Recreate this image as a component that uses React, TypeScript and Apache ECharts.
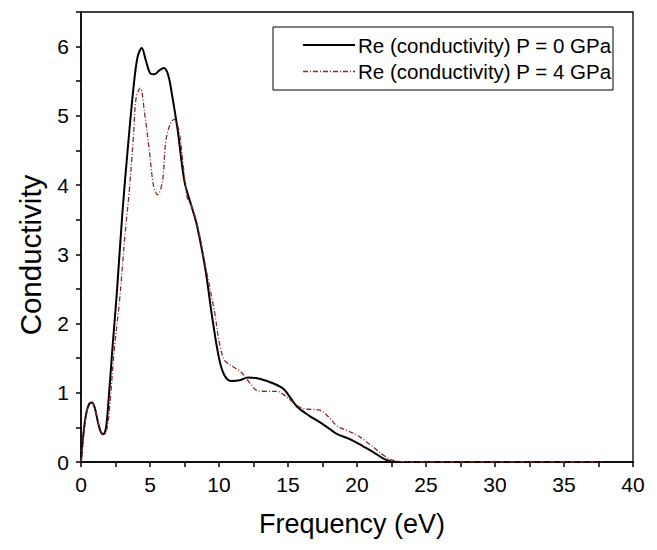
import React, { useEffect, useRef } from "react";
import * as echarts from "echarts";

const seriesNames = ["Re (conductivity) P = 0 GPa", "Re (conductivity) P = 4 GPa"];

const freqP0 = [0, 0.2, 0.4, 0.6, 0.8, 1.0, 1.2, 1.4, 1.6, 1.8, 2.0, 2.3, 2.6, 3.0, 3.4, 3.8, 4.1, 4.4, 4.7, 5.0, 5.3, 5.7, 6.0, 6.3, 6.6, 7.0, 7.5, 8.0, 8.4, 9.0, 9.5, 10.0, 10.4, 10.9, 11.5, 12.1, 13.0, 14.0, 14.7, 15.2, 15.7, 16.6, 17.1, 18.0, 18.5, 19.7, 20.5, 21.2, 22.1, 22.8, 25, 30, 37.7];
const condP0 = [0, 0.45, 0.72, 0.84, 0.86, 0.78, 0.6, 0.45, 0.4, 0.48, 0.9, 1.7, 2.45, 3.6, 4.55, 5.4, 5.85, 5.98, 5.8, 5.62, 5.6, 5.66, 5.69, 5.6, 5.3, 4.8, 4.05, 3.7, 3.42, 2.8, 2.1, 1.5, 1.25, 1.17, 1.18, 1.22, 1.2, 1.13, 1.05, 0.92, 0.79, 0.66, 0.6, 0.48, 0.41, 0.31, 0.22, 0.14, 0.03, 0.0, 0, 0, 0];

const freqP4 = [0, 0.2, 0.4, 0.6, 0.8, 1.0, 1.2, 1.4, 1.65, 1.9, 2.1, 2.4, 2.8, 3.2, 3.5, 3.8, 4.0, 4.3, 4.6, 4.95, 5.25, 5.55, 5.9, 6.15, 6.5, 6.75, 7.1, 7.4, 7.7, 8.0, 8.4, 9.0, 9.7, 10.0, 10.4, 11.0, 11.6, 12.2, 12.8, 13.5, 14.24, 14.7, 15.2, 16.1, 16.7, 17.3, 18.0, 18.5, 19.2, 20.0, 20.5, 21.15, 21.9, 22.5, 23.5, 25, 30, 37.7];
const condP4 = [0, 0.42, 0.7, 0.83, 0.85, 0.78, 0.62, 0.46, 0.4, 0.5, 0.85, 1.6, 2.35, 3.3, 3.92, 4.7, 5.27, 5.4, 5.05, 4.5, 4.0, 3.86, 4.05, 4.64, 4.9, 4.95, 4.78, 4.3, 3.82, 3.7, 3.45, 2.85, 2.14, 1.75, 1.47, 1.38, 1.3, 1.15, 1.03, 1.02, 1.02, 0.97, 0.89, 0.77, 0.76, 0.75, 0.64, 0.53, 0.46, 0.39, 0.32, 0.22, 0.1, 0.03, 0.005, 0, 0, 0];

const xTitle = "Frequency (eV)";
const yTitle = "Conductivity";

const FONT = '"Liberation Sans", Arial, sans-serif';
const COLOR_P0 = "#000";
const COLOR_P4 = "#8b2a2a";
const DASH_P4 = [5, 2, 1, 2];

export default function App() {
  const ref = useRef<HTMLDivElement>(null);
  useEffect(() => {
    if (!ref.current) return;
    const chart = echarts.init(ref.current, undefined, { renderer: "svg" });
    const zip = (xs: number[], ys: number[]) => xs.map((x, i) => [x, ys[i]]);
    const legendRows = [45, 71.5];
    const legendStyles = [
      { stroke: COLOR_P0, lineWidth: 2 },
      { stroke: COLOR_P4, lineWidth: 1.3, lineDash: DASH_P4 },
    ];
    const legendGraphics: any[] = [];
    seriesNames.forEach((name, i) => {
      legendGraphics.push({
        type: "line",
        shape: { x1: 303, y1: legendRows[i], x2: 355, y2: legendRows[i] },
        style: legendStyles[i],
        z: 11,
      });
      legendGraphics.push({
        type: "text",
        x: 358,
        y: legendRows[i],
        style: {
          text: name,
          fontFamily: FONT,
          fontSize: 20.5,
          fill: "#000",
          align: "left",
          verticalAlign: "middle",
          textAlign: "left",
          textVerticalAlign: "middle",
        },
        z: 11,
      });
    });
    chart.setOption({
      animation: false,
      backgroundColor: "#fff",
      grid: {
        left: 81,
        right: 24,
        top: 12,
        bottom: 88,
        show: true,
        borderColor: "#000",
        borderWidth: 1.3,
        backgroundColor: "transparent",
      },
      xAxis: {
        type: "value",
        min: 0,
        max: 40,
        interval: 2.5,
        axisLine: { show: true, lineStyle: { color: "#000", width: 1.5 } },
        axisTick: { show: true, length: 5, lineStyle: { color: "#000", width: 1.5 } },
        axisLabel: {
          margin: 12,
          fontFamily: FONT,
          fontSize: 21,
          color: "#000",
          formatter: (v: number) => (v % 5 === 0 ? String(v) : ""),
        },
        splitLine: { show: false },
      },
      yAxis: {
        type: "value",
        min: 0,
        max: 6.5,
        interval: 0.5,
        axisLine: { show: true, lineStyle: { color: "#000", width: 1.5 } },
        axisTick: { show: true, length: 5, lineStyle: { color: "#000", width: 1.5 } },
        axisLabel: {
          margin: 12,
          fontFamily: FONT,
          fontSize: 21,
          color: "#000",
          formatter: (v: number) => (Number.isInteger(v) && v <= 6 ? String(v) : ""),
        },
        splitLine: { show: false },
      },
      graphic: [
        {
          type: "rect",
          shape: { x: 273, y: 27, width: 340, height: 63 },
          style: { fill: "#fff", stroke: "#000", lineWidth: 1 },
          z: 10,
        },
        ...legendGraphics,
        {
          type: "text",
          x: 352,
          y: 524,
          style: {
            text: xTitle,
            fontFamily: FONT,
            fontSize: 27,
            fill: "#000",
            align: "center",
            verticalAlign: "middle",
            textAlign: "center",
            textVerticalAlign: "middle",
          },
        },
        {
          type: "text",
          x: 30,
          y: 255,
          rotation: Math.PI / 2,
          style: {
            text: yTitle,
            fontFamily: FONT,
            fontSize: 29.5,
            fill: "#000",
            align: "center",
            verticalAlign: "middle",
            textAlign: "center",
            textVerticalAlign: "middle",
          },
        },
      ],
      series: [
        {
          name: seriesNames[0],
          type: "line",
          data: zip(freqP0, condP0),
          showSymbol: false,
          symbol: "none",
          smooth: 0.35,
          lineStyle: { color: COLOR_P0, width: 2 },
          itemStyle: { color: COLOR_P0 },
          z: 3,
        },
        {
          name: seriesNames[1],
          type: "line",
          data: zip(freqP4, condP4),
          showSymbol: false,
          symbol: "none",
          smooth: 0.35,
          lineStyle: { color: COLOR_P4, width: 1.3, type: DASH_P4 },
          itemStyle: { color: COLOR_P4 },
          z: 4,
        },
      ],
    });
    return () => chart.dispose();
  }, []);
  return (
    <div
      ref={ref}
      style={{ position: "fixed", left: 0, top: 0, width: 657, height: 550, background: "#fff" }}
    />
  );
}
